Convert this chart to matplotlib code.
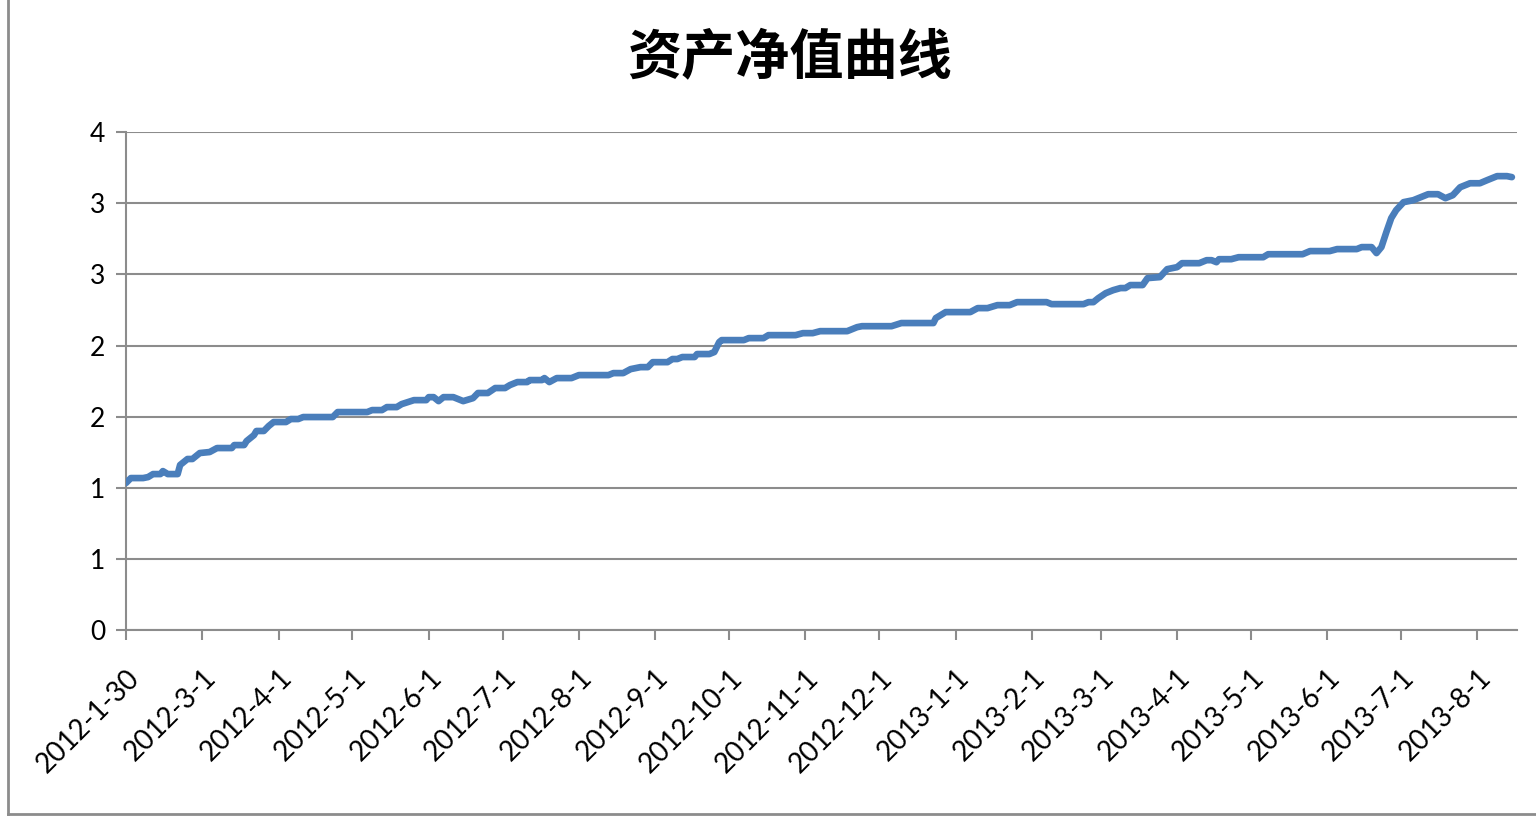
import numpy as np
import pandas as pd
import matplotlib
matplotlib.use('Agg')
import matplotlib.pyplot as plt
from matplotlib.ticker import FuncFormatter, MultipleLocator

plt.rcParams['font.family'] = ['Lato', 'Noto Sans CJK SC', 'DejaVu Sans']

# net value curve (days counted from the first date)
start_date = pd.Timestamp('2012-01-30')
days_since_start = [
    0, 2, 7, 9, 11, 14, 15, 17, 21, 22, 25, 27, 30, 34, 37, 43, 44, 48, 49, 52,
    53, 56, 58, 60, 65, 67, 70, 72, 84, 86, 98, 100, 104, 106, 110, 112, 117, 122, 123, 125,
    127, 129, 133, 136, 137, 141, 143, 147, 150, 154, 156, 159, 163, 164, 169, 170, 172, 175, 181, 184,
    196, 198, 202, 205, 209, 212, 214, 220, 222, 224, 226, 231, 232, 237, 239, 241, 242, 251, 253, 259,
    261, 272, 275, 279, 282, 293, 297, 299, 311, 315, 328, 329, 333, 343, 346, 350, 354, 359, 362, 374,
    376, 389, 391, 393, 395, 398, 401, 404, 406, 408, 413, 415, 420, 423, 427, 429, 436, 439, 441, 443,
    444, 449, 452, 462, 464, 478, 481, 489, 492, 500, 502, 506, 508, 510, 512, 514, 516, 519, 523, 527,
    529, 533, 536, 539, 542, 546, 550, 553, 557, 561, 563,
]
net_value = [
    1.033, 1.068, 1.068, 1.075, 1.096, 1.096, 1.117, 1.096, 1.096, 1.160, 1.202, 1.202, 1.244, 1.251, 1.279, 1.279, 1.300, 1.300, 1.328, 1.370,
    1.399, 1.399, 1.434, 1.462, 1.462, 1.483, 1.483, 1.497, 1.497, 1.532, 1.532, 1.546, 1.546, 1.567, 1.567, 1.588, 1.616, 1.616, 1.637, 1.637,
    1.609, 1.637, 1.637, 1.616, 1.609, 1.630, 1.666, 1.666, 1.701, 1.701, 1.722, 1.743, 1.743, 1.757, 1.757, 1.771, 1.743, 1.771, 1.771, 1.792,
    1.792, 1.806, 1.806, 1.834, 1.848, 1.848, 1.883, 1.883, 1.905, 1.905, 1.919, 1.919, 1.940, 1.940, 1.954, 2.024, 2.038, 2.038, 2.052, 2.052,
    2.073, 2.073, 2.087, 2.087, 2.101, 2.101, 2.129, 2.136, 2.136, 2.158, 2.158, 2.193, 2.235, 2.235, 2.263, 2.263, 2.284, 2.284, 2.305, 2.305,
    2.291, 2.291, 2.305, 2.305, 2.333, 2.368, 2.389, 2.404, 2.404, 2.425, 2.425, 2.474, 2.481, 2.537, 2.551, 2.579, 2.579, 2.600, 2.600, 2.586,
    2.607, 2.607, 2.621, 2.621, 2.642, 2.642, 2.664, 2.664, 2.678, 2.678, 2.692, 2.692, 2.650, 2.692, 2.797, 2.896, 2.952, 3.008, 3.022, 3.050,
    3.064, 3.064, 3.036, 3.057, 3.113, 3.141, 3.141, 3.163, 3.191, 3.191, 3.184,
]

tick_dates = ['2012-01-30', '2012-03-01', '2012-04-01', '2012-05-01', '2012-06-01', '2012-07-01',
              '2012-08-01', '2012-09-01', '2012-10-01', '2012-11-01', '2012-12-01', '2013-01-01',
              '2013-02-01', '2013-03-01', '2013-04-01', '2013-05-01', '2013-06-01', '2013-07-01',
              '2013-08-01']
tick_labels = ['2012-1-30', '2012-3-1', '2012-4-1', '2012-5-1', '2012-6-1', '2012-7-1',
               '2012-8-1', '2012-9-1', '2012-10-1', '2012-11-1', '2012-12-1', '2013-1-1',
               '2013-2-1', '2013-3-1', '2013-4-1', '2013-5-1', '2013-6-1', '2013-7-1',
               '2013-8-1']

dates = start_date + pd.to_timedelta(days_since_start, unit='D')

fig = plt.figure(figsize=(15.36, 8.16), dpi=100)
ax = fig.add_axes([0.082, 0.228, 0.9055, 0.61])

grey = '#8c8c8c'
ax.plot(dates, net_value, color='#4a7ebb', linewidth=4.8, solid_joinstyle='round',
        solid_capstyle='round', zorder=3)

ax.set_ylim(0, 3.5)
ax.set_xlim(start_date, pd.Timestamp('2013-08-17'))
ax.yaxis.set_major_locator(MultipleLocator(0.5))
# Excel style integer format rounds half up
ax.yaxis.set_major_formatter(FuncFormatter(lambda v, p: '%d' % int(np.floor(v + 0.5 + 1e-9))))
ax.grid(axis='y', color=grey, linewidth=1.5)
ax.set_axisbelow(True)

ax.set_xticks(pd.to_datetime(tick_dates))
ax.set_xticklabels(tick_labels, rotation=45, ha='right', rotation_mode='anchor')

for side in ['top', 'right']:
    ax.spines[side].set_visible(False)
for side in ['left', 'bottom']:
    ax.spines[side].set_color(grey)
    ax.spines[side].set_linewidth(1.5)
ax.tick_params(axis='both', colors=grey, labelcolor='black', labelsize=19, width=1.5, length=7)
ax.tick_params(axis='x', pad=18, labelsize=20)
ax.tick_params(axis='y', pad=8)

fig.text(0.514, 0.928, '资产净值曲线', ha='center', va='center', fontsize=39,
         fontweight='bold', family=['Noto Sans CJK SC', 'DejaVu Sans'])

# chart frame (left and bottom edges visible)
fig.add_artist(plt.Line2D([0.0055, 0.0055], [0.002, 1.0], color=grey, linewidth=2,
                          transform=fig.transFigure))
fig.add_artist(plt.Line2D([0.0055, 1.0], [0.0025, 0.0025], color=grey, linewidth=2,
                          transform=fig.transFigure))

fig.savefig('out.png', dpi=100)
